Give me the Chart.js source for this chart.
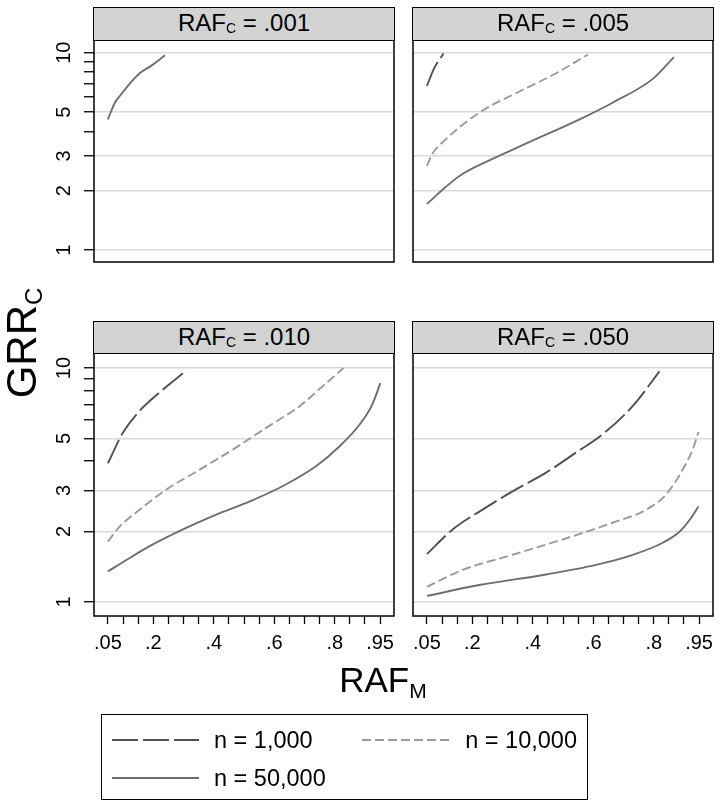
<!DOCTYPE html>
<html>
<head>
<meta charset="utf-8">
<script src="https://cdn.jsdelivr.net/npm/chart.js@4.4.1/dist/chart.umd.min.js"></script>
<style>
  body { margin: 0; background: #fff; font-family: "Liberation Sans", Arial, sans-serif; color: #000; }
  #wrap { position: relative; width: 722px; height: 808px; overflow: hidden; }
  canvas { position: absolute; left: 0; top: 0; }
  .strip { position: absolute; box-sizing: border-box; border: 1.5px solid #000; background: #d3d3d3;
           font-size: 24px; line-height: 30px; text-align: center; white-space: nowrap; }
  .strip .s { font-size: 14px; position: relative; top: 2px; }
  .title { position: absolute; text-align: center; white-space: nowrap; }
  #ytitle { left: -78px; top: 318px; width: 200px; height: 50px; line-height: 50px; font-size: 42px; transform: rotate(-90deg); }
  #ytitle .s { font-size: 24px; position: relative; top: 6px; }
  #xtitle { left: 283px; top: 655px; width: 200px; height: 50px; line-height: 50px; font-size: 35px; }
  #xtitle .s { font-size: 21px; position: relative; top: 6px; }
  #legend { position: absolute; left: 101px; top: 714px; width: 487px; height: 86px; box-sizing: border-box; border: 1.5px solid #000; }
  .lt { position: absolute; font-size: 23.5px; line-height: 28px; white-space: nowrap; }
  #legend svg { position: absolute; left: 0; top: 0; }
</style>
</head>
<body>
<div id="wrap">
  <canvas id="c1" width="722" height="808"></canvas>
  <canvas id="c2" width="722" height="808"></canvas>
  <canvas id="c3" width="722" height="808"></canvas>
  <canvas id="c4" width="722" height="808"></canvas>
  <div class="strip" style="left:93px;top:7px;width:302px;height:34px">RAF<span class="s">C</span> = .001</div>
  <div class="strip" style="left:412px;top:7px;width:302px;height:34px">RAF<span class="s">C</span> = .005</div>
  <div class="strip" style="left:93px;top:321px;width:302px;height:33px">RAF<span class="s">C</span> = .010</div>
  <div class="strip" style="left:412px;top:321px;width:302px;height:33px">RAF<span class="s">C</span> = .050</div>
  <div class="title" id="ytitle">GRR<span class="s">C</span></div>
  <div class="title" id="xtitle">RAF<span class="s">M</span></div>
  <div id="legend">
    <svg width="487" height="86">
      <line x1="10" y1="25" x2="97" y2="25" stroke="#505050" stroke-width="1.8" stroke-dasharray="26 5"/>
      <line x1="260" y1="25" x2="348" y2="25" stroke="#9a9a9a" stroke-width="1.8" stroke-dasharray="9 4"/>
      <line x1="10" y1="63" x2="97" y2="63" stroke="#6e6e6e" stroke-width="1.8"/>
    </svg>
    <div class="lt" style="left:112px;top:11px">n = 1,000</div>
    <div class="lt" style="right:10px;top:11px">n = 10,000</div>
    <div class="lt" style="left:112px;top:49px">n = 50,000</div>
  </div>
</div>
<script>
// axis ticks
const xTickValues = [0.05, 0.1, 0.15, 0.2, 0.25, 0.3, 0.35, 0.4, 0.45, 0.5, 0.55, 0.6, 0.65, 0.7, 0.75, 0.8, 0.85, 0.9, 0.95];
const xTickLabels = [0.05, 0.2, 0.4, 0.6, 0.8, 0.95];
const yTickValues = [1, 2, 3, 4, 5, 6, 7, 8, 9, 10];
const yTickLabels = [1, 2, 3, 5, 10];

const seriesNames = ['n = 1,000', 'n = 10,000', 'n = 50,000'];

// RAF_C = .001 (only n = 50,000 reaches below 10)
const raf001N50kX = [0.05, 0.073, 0.09, 0.123, 0.156, 0.189, 0.239];
const raf001N50kY = [4.6, 5.58, 6.05, 7.0, 7.9, 8.5, 9.7];

// RAF_C = .005
const raf005N1kX = [0.05, 0.075, 0.105];
const raf005N1kY = [6.8, 8.4, 9.9];
const raf005N10kX = [0.05, 0.069, 0.102, 0.223, 0.356, 0.477, 0.583];
const raf005N10kY = [2.67, 3.09, 3.52, 4.97, 6.36, 7.87, 9.8];
const raf005N50kX = [0.05, 0.111, 0.166, 0.265, 0.388, 0.553, 0.664, 0.797, 0.867];
const raf005N50kY = [1.71, 2.08, 2.42, 2.89, 3.52, 4.58, 5.58, 7.37, 9.5];

// RAF_C = .010
const raf010N1kX = [0.05, 0.1, 0.155, 0.221, 0.311];
const raf010N1kY = [3.91, 5.3, 6.56, 7.87, 9.8];
const raf010N10kX = [0.05, 0.089, 0.155, 0.243, 0.354, 0.464, 0.574, 0.685, 0.762, 0.829];
const raf010N10kY = [1.81, 2.1, 2.48, 3.02, 3.68, 4.49, 5.56, 6.89, 8.4, 10.0];
const raf010N50kX = [0.05, 0.111, 0.188, 0.298, 0.408, 0.519, 0.629, 0.739, 0.817, 0.883, 0.922, 0.951];
const raf010N50kY = [1.35, 1.51, 1.73, 2.04, 2.36, 2.69, 3.13, 3.81, 4.64, 5.75, 6.89, 8.62];

// RAF_C = .050
const raf050N1kX = [0.05, 0.135, 0.234, 0.333, 0.444, 0.543, 0.631, 0.731, 0.819];
const raf050N1kY = [1.60, 2.04, 2.48, 2.97, 3.57, 4.35, 5.21, 6.89, 9.68];
const raf050N10kX = [0.05, 0.168, 0.333, 0.499, 0.664, 0.775, 0.841, 0.896, 0.929, 0.948];
const raf050N10kY = [1.16, 1.37, 1.59, 1.85, 2.18, 2.48, 2.88, 3.68, 4.49, 5.33];
const raf050N50kX = [0.05, 0.223, 0.444, 0.609, 0.731, 0.830, 0.886, 0.924, 0.948];
const raf050N50kY = [1.06, 1.18, 1.31, 1.44, 1.59, 1.79, 2.0, 2.29, 2.56];

const lineStyles = [
  { color: '#505050', dash: [26, 5] },
  { color: '#9a9a9a', dash: [9, 4] },
  { color: '#6e6e6e', dash: [] }
];

const FONT = '"Liberation Sans", Arial, sans-serif';

/* draws the full frame round the plot region */
const boxPlugin = {
  id: 'box',
  afterDraw(chart) {
    const a = chart.chartArea, c = chart.ctx;
    c.save();
    c.strokeStyle = '#000';
    c.lineWidth = 1.5;
    c.strokeRect(a.left, a.top, a.right - a.left, a.bottom - a.top);
    c.restore();
  }
};

function fmt(v) {
  return String(v).replace(/^0\./, '.');
}

function makeSet(i, xs, ys) {
  return {
    label: seriesNames[i],
    data: xs.map((x, k) => ({ x: x, y: ys[k] })),
    borderColor: lineStyles[i].color,
    borderDash: lineStyles[i].dash,
    borderWidth: 1.9,
    pointRadius: 0,
    fill: false,
    cubicInterpolationMode: 'monotone'
  };
}

function makePanel(id, datasets, area, showY, showX) {
  return new Chart(document.getElementById(id), {
    type: 'line',
    data: { datasets: datasets },
    options: {
      responsive: false,
      animation: false,
      devicePixelRatio: 1,
      layout: {
        padding: {
          left: area.left - (showY ? 40 : 0),
          right: 722 - area.right,
          top: area.top,
          bottom: 808 - area.bottom - (showX ? 40 : 0)
        }
      },
      plugins: { legend: { display: false }, tooltip: { enabled: false } },
      scales: {
        x: {
          type: 'linear',
          min: 0.004,
          max: 0.996,
          display: showX,
          afterBuildTicks: s => { s.ticks = xTickValues.map(v => ({ value: v })); },
          afterFit: s => { s.height = 40; },
          border: { display: false },
          grid: { drawOnChartArea: false, tickLength: 8, tickColor: '#000', tickWidth: 1.3 },
          ticks: {
            autoSkip: false, minRotation: 0, maxRotation: 0, padding: 7, color: '#000',
            font: { family: FONT, size: 20 },
            callback: v => xTickLabels.includes(v) ? fmt(v) : ''
          }
        },
        y: {
          type: 'logarithmic',
          min: 0.87,
          max: 11.6,
          afterBuildTicks: s => { s.ticks = yTickValues.map(v => ({ value: v })); },
          afterFit: s => { s.width = showY ? 40 : 0; },
          border: { display: false },
          grid: {
            color: ctx => (ctx.tick && yTickLabels.includes(ctx.tick.value)) ? '#d9d9d9' : 'rgba(0,0,0,0)',
            lineWidth: 1.5,
            drawTicks: showY,
            tickLength: 10,
            tickColor: '#000',
            tickWidth: 1.3
          },
          ticks: {
            display: showY, autoSkip: false, minRotation: 90, maxRotation: 90,
            crossAlign: 'center', padding: 8, color: '#000',
            font: { family: FONT, size: 20 },
            callback: v => yTickLabels.includes(v) ? String(v) : ''
          }
        }
      }
    },
    plugins: [boxPlugin]
  });
}

makePanel('c1', [makeSet(2, raf001N50kX, raf001N50kY)],
  { left: 94, right: 394, top: 40, bottom: 302 }, true, false);

makePanel('c2', [makeSet(0, raf005N1kX, raf005N1kY), makeSet(1, raf005N10kX, raf005N10kY), makeSet(2, raf005N50kX, raf005N50kY)],
  { left: 413, right: 713, top: 40, bottom: 302 }, false, false);

makePanel('c3', [makeSet(0, raf010N1kX, raf010N1kY), makeSet(1, raf010N10kX, raf010N10kY), makeSet(2, raf010N50kX, raf010N50kY)],
  { left: 94, right: 394, top: 353, bottom: 616 }, true, true);

makePanel('c4', [makeSet(0, raf050N1kX, raf050N1kY), makeSet(1, raf050N10kX, raf050N10kY), makeSet(2, raf050N50kX, raf050N50kY)],
  { left: 413, right: 713, top: 353, bottom: 616 }, false, true);
</script>
</body>
</html>
